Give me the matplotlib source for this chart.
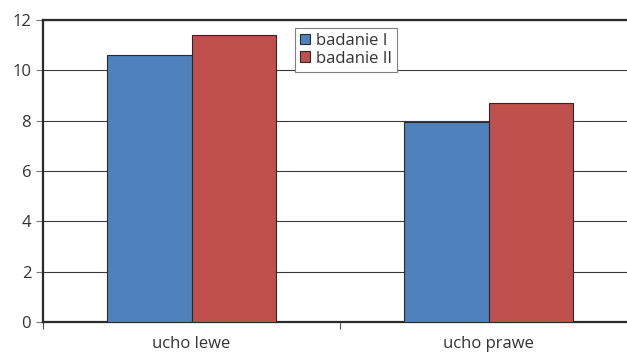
import numpy as np
import matplotlib.pyplot as plt
from matplotlib.patches import Patch

plt.rcParams['font.family'] = ['Open Sans', 'DejaVu Sans']

# Dane
kategorie = ['ucho lewe', 'ucho prawe']
badanie_1 = [10.6, 7.95]
badanie_2 = [11.4, 8.7]
serie = ['badanie I', 'badanie II']
kolory = ['#4F81BD', '#C0504D']

fig = plt.figure(figsize=(6.27, 3.52), dpi=100)
# oś wychodzi nieco poza prawą krawędź rysunku
ax = fig.add_axes([43 / 627, 30 / 352, 594 / 627, 302 / 352])

x = np.arange(len(kategorie))
w = 0.283
ax.bar(x - w / 2, badanie_1, w, color=kolory[0], edgecolor='#2a2a2a', linewidth=0.8, zorder=3)
ax.bar(x + w / 2, badanie_2, w, color=kolory[1], edgecolor='#2a2a2a', linewidth=0.8, zorder=3)

ax.set_xlim(-0.5, 1.5)
ax.set_ylim(0, 12)
ax.set_yticks(np.arange(0, 13, 2))
ax.yaxis.grid(True, color='#3a3a3a', linewidth=0.8, zorder=0)
ax.set_axisbelow(True)

ax.set_xticks(x)
ax.set_xticklabels(kategorie)
ax.set_xticks([-0.5, 0.5, 1.5], minor=True)
ax.tick_params(axis='x', which='major', length=0, pad=10, labelsize=12, labelcolor='#333333')
ax.tick_params(axis='x', which='minor', length=5, width=0.8, color='#555555')
ax.tick_params(axis='y', length=5, width=0.8, color='#777777', pad=3.5, labelsize=12, labelcolor='#333333')

for s in ['left', 'bottom', 'top']:
    ax.spines[s].set_color('#2a2a2a')
    ax.spines[s].set_linewidth(1.6)
ax.spines['right'].set_visible(False)

uchwyty = [Patch(facecolor=c, edgecolor='#2a2a2a', linewidth=0.8) for c in kolory]
leg = ax.legend(uchwyty, serie, loc='upper left', bbox_to_anchor=(0.424, 0.974),
                borderaxespad=0, fontsize=12, handlelength=0.6, handleheight=0.6,
                handletextpad=0.35, labelspacing=0.1, borderpad=0.3,
                fancybox=False, framealpha=1, edgecolor='#808080')
leg.get_frame().set_linewidth(0.8)
for t in leg.get_texts():
    t.set_color('#333333')

fig.savefig('out.png', dpi=100)
